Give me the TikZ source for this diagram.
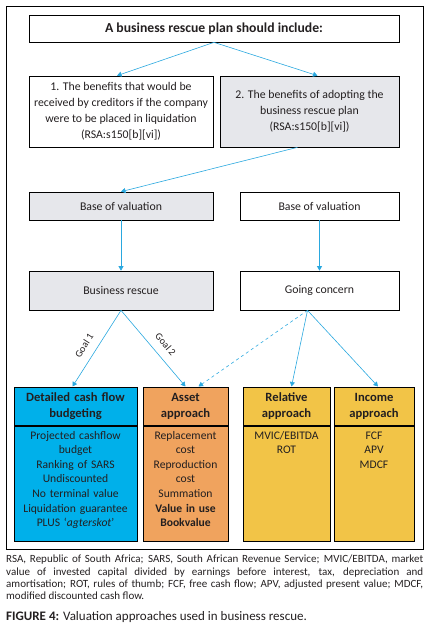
\documentclass[tikz,border=0pt]{standalone}
\usepackage{fontspec}
\setmainfont{Carlito}
\usetikzlibrary{arrows.meta}
\definecolor{boxgrey}{HTML}{E6E7EB}
\definecolor{cashblue}{HTML}{00B0EA}
\definecolor{assetorange}{HTML}{F0A35E}
\definecolor{approachyellow}{HTML}{F2C447}
\definecolor{linkblue}{HTML}{2AA8DF}
\definecolor{inktext}{HTML}{231F20}
\begin{document}
\begin{tikzpicture}[x=1pt,y=-1pt,
    box/.style={draw=black, line width=0.7pt, align=center, inner sep=0pt,
      text=inktext, font=\fontsize{11.8}{16}\selectfont},
    head/.style={box, anchor=north, minimum height=38.5pt,
      font=\fontsize{12.6}{16}\selectfont\bfseries},
    body/.style={box, anchor=north, text height=13pt, text depth=102pt,
      font=\fontsize{11.6}{14.6}\selectfont},
    link/.style={draw=linkblue, line width=0.6pt,
      -{Triangle[length=4.5pt,width=5pt]}},
    goal/.style={sloped, above=5pt, font=\fontsize{10}{11}\selectfont, text=inktext}]
  \useasboundingbox (0,0) rectangle (430,628);
  \draw[line width=0.8pt] (6,6) rectangle (423,549);
  \draw
    (214,28.5) node[box, minimum width=370pt, minimum height=27pt,
      font=\fontsize{13.7}{16}\selectfont\bfseries] (plan){A business rescue plan should include:}
    (121,111.5) node[box, minimum width=184pt, minimum height=71pt] (liquid){1. The benefits that would be\\
      received by creditors if the company\\ were to be placed in liquidation\\ (RSA:s150[b][vi])}
    (309.5,111.5) node[box, fill=boxgrey, minimum width=179pt, minimum height=71pt] (adopt){2. The benefits of adopting the\\
      business rescue plan\\ (RSA:s150[b][vi])}
    (121,206) node[box, fill=boxgrey, minimum width=184pt, minimum height=28pt] (baseL){Base of valuation}
    (319.5,206) node[box, minimum width=159pt, minimum height=28pt] (baseR){Base of valuation}
    (121,290.5) node[box, fill=boxgrey, minimum width=184pt, minimum height=39pt] (rescue){Business rescue}
    (319.5,290.5) node[box, minimum width=159pt, minimum height=39pt] (concern){Going concern};
  % approach boxes
  \draw
    (75.5,386.5) node[head, fill=cashblue, text width=123pt] (cashH){Detailed cash flow\\ budgeting}
    (cashH.south) node[body, fill=cashblue, text width=123pt] (cashB){Projected cashflow\\ budget\\
      Ranking of SARS\\ Undiscounted\\ No terminal value\\ Liquidation guarantee\\ PLUS ‘\textit{agterskot}’}
    (185.5,386.5) node[head, fill=assetorange, text width=85pt] (assetH){Asset\\ approach}
    (assetH.south) node[body, fill=assetorange, text width=85pt] (assetB){Replacement\\ cost\\
      Reproduction\\ cost\\ Summation\\ \textbf{Value in use}\\ \textbf{Bookvalue}}
    (286.5,386.5) node[head, fill=approachyellow, text width=87pt] (relH){Relative\\ approach}
    (relH.south) node[body, fill=approachyellow, text width=87pt] (relB){MVIC/EBITDA\\ ROT}
    (374,386.5) node[head, fill=approachyellow, text width=80pt] (incH){Income\\ approach}
    (incH.south) node[body, fill=approachyellow, text width=80pt] (incB){FCF\\ APV\\ MDCF};
  \begin{scope}[link]
    \draw (plan.south) to ([xshift=-4pt]liquid.north);
    \draw (plan.south) to ([xshift=8pt]adopt.north);
    \draw ([xshift=-12pt]adopt.south) to (baseL.north);
    \draw (baseL) to (rescue);
    \draw (baseR) to (concern);
    \draw (rescue.south) to node[goal, pos=0.55]{Goal 1} ([xshift=-3pt]cashH.north);
    \draw (rescue.south) to node[goal, pos=0.55]{Goal 2} (assetH.north);
    \draw[dashed] ([xshift=-12pt]concern.south) to ([xshift=13pt]assetH.north);
    \draw ([xshift=-12pt]concern.south) to ([xshift=5pt]relH.north);
    \draw ([xshift=-12pt]concern.south) to ([xshift=4pt]incH.north);
  \end{scope}
  % key and caption
  \node[anchor=north west, inner sep=0pt, text width=417pt, align=justify, text=inktext,
    font=\fontsize{11}{12.3}\selectfont] (key) at (6,555)
    {\hyphenpenalty=10000 \tolerance=9999 RSA, Republic of South Africa; SARS, South African Revenue Service; MVIC/EBITDA, market value of invested capital divided by earnings before interest, tax, depreciation and amortisation; ROT, rules of thumb; FCF, free cash flow; APV, adjusted present value; MDCF, modified discounted cash flow.\par};
  \node[anchor=west, inner sep=0pt, text=inktext, font=\fontsize{13}{14}\selectfont] (caption) at (6,617)
    {\textbf{FIGURE 4:} Valuation approaches used in business rescue.};
\end{tikzpicture}
\end{document}
